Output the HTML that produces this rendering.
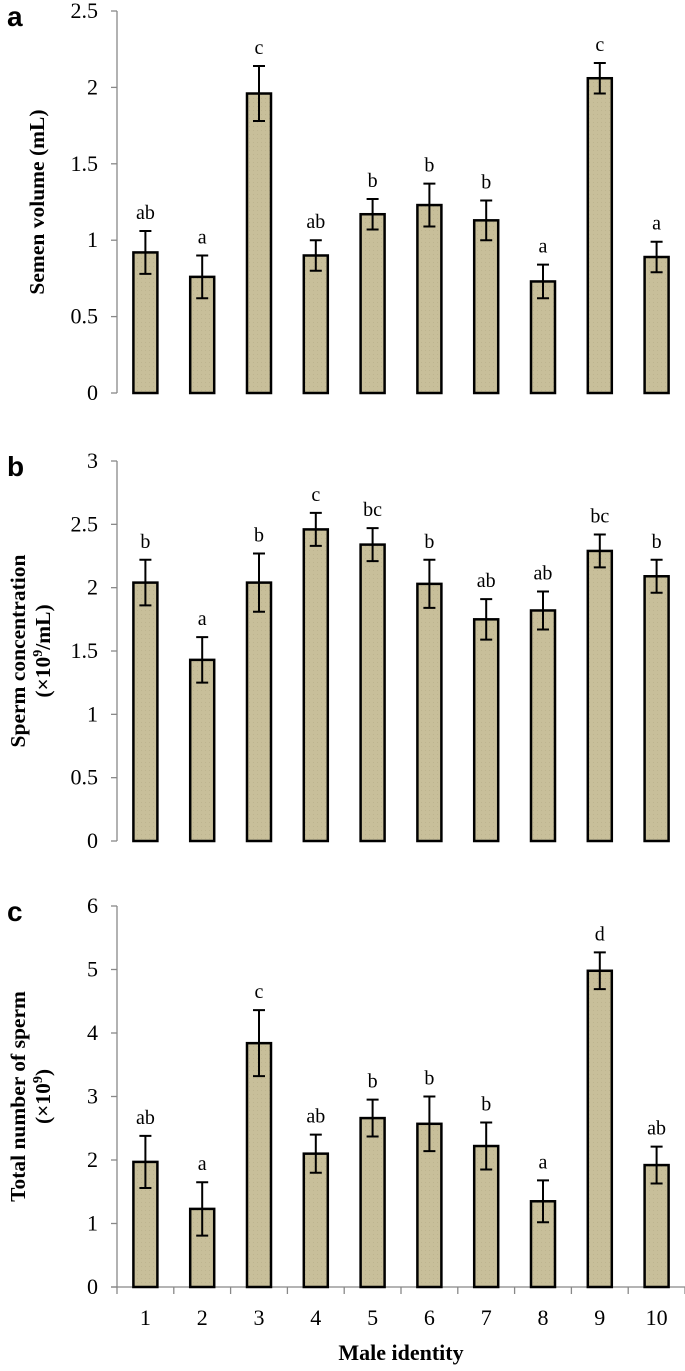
<!DOCTYPE html>
<html><head><meta charset="utf-8"><style>
body{margin:0;background:#fff;}
svg text{font-family:"Liberation Serif",serif;fill:#000;}
</style></head><body>
<svg id="chart" width="685" height="1366" viewBox="0 0 685 1366" xmlns="http://www.w3.org/2000/svg">
<defs><pattern id="tex" width="4" height="4" patternUnits="userSpaceOnUse"><rect width="4" height="4" fill="#c8bf9a"/><rect x="1" y="2" width="1" height="1" fill="#bdb48f"/></pattern></defs>
</svg>
<script>
const categories=["1","2","3","4","5","6","7","8","9","10"];
const volumeValues=[0.92,0.76,1.96,0.90,1.17,1.23,1.13,0.73,2.06,0.89];
const volumeErrors=[0.14,0.14,0.18,0.10,0.10,0.14,0.13,0.11,0.10,0.10];
const volumeLetters=["ab","a","c","ab","b","b","b","a","c","a"];
const volumeTicks=["0","0.5","1","1.5","2","2.5"];
const concValues=[2.04,1.43,2.04,2.46,2.34,2.03,1.75,1.82,2.29,2.09];
const concErrors=[0.18,0.18,0.23,0.13,0.13,0.19,0.16,0.15,0.13,0.13];
const concLetters=["b","a","b","c","bc","b","ab","ab","bc","b"];
const concTicks=["0","0.5","1","1.5","2","2.5","3"];
const totalValues=[1.97,1.23,3.84,2.10,2.66,2.57,2.22,1.35,4.98,1.92];
const totalErrors=[0.41,0.42,0.52,0.30,0.29,0.43,0.37,0.33,0.29,0.29];
const totalLetters=["ab","a","c","ab","b","b","b","a","d","ab"];
const totalTicks=["0","1","2","3","4","5","6"];

const svg=document.getElementById('chart');
const NS='http://www.w3.org/2000/svg';
function mk(tag,attrs,parent){const e=document.createElementNS(NS,tag);for(const k in attrs)e.setAttribute(k,attrs[k]);(parent||svg).appendChild(e);return e;}
const X0=117,X1=685,catW=(X1-X0)/categories.length,barW=24;
function xc(i){return X0+catW*(i+0.5);}

function panel(key,letter,yTop,yBot,ticks,vals,errs,lets,titleLines,xAxis){
  const g=mk('g',{});
  
  
  const maxV=parseFloat(ticks[ticks.length-1]);
  const y=v=>yBot-(v/maxV)*(yBot-yTop);
  const pl=mk('text',{x:7,y:yTop+15,'font-size':28,'font-weight':'bold',style:'font-family:"Liberation Sans",sans-serif'},g);
  pl.textContent=letter;
  
  
  const ax=mk('line',{x1:X0,y1:yTop,x2:X0,y2:yBot,stroke:'#888','stroke-width':1.3},g);
  
  
  ticks.forEach(t=>{
    const ty=y(parseFloat(t));
    mk('line',{x1:X0-6,y1:ty,x2:X0,y2:ty,stroke:'#888','stroke-width':1.3},g);
    const tx=mk('text',{x:98,y:ty+7,'font-size':22,'text-anchor':'end'},g);
    tx.textContent=t;
    
    
  });
  const cy=(yTop+yBot)/2;
  const tt=mk('text',{'font-size':21.5,'font-weight':'bold','text-anchor':'middle',transform:'rotate(-90)'},g);
  
  
  if(titleLines.length===1){
    const ts=mk('tspan',{x:-cy,y:44},tt);ts.textContent=titleLines[0];
  }else{
    const a=mk('tspan',{x:-cy,y:25},tt);a.textContent=titleLines[0];
    const b=mk('tspan',{x:-cy,y:50},tt);b.innerHTML=titleLines[1];
  }
  if(xAxis){
    const xa=mk('line',{x1:X0-6,y1:yBot,x2:X1,y2:yBot,stroke:'#888','stroke-width':1.3},g);
    
    
    for(let i=0;i<=categories.length;i++){const tx=X0+catW*i;mk('line',{x1:tx,y1:yBot,x2:tx,y2:yBot+7,stroke:'#888','stroke-width':1.3},g);}
    categories.forEach((c,i)=>{
      const t=mk('text',{x:xc(i),y:yBot+38,'font-size':22,'text-anchor':'middle'},g);
      t.textContent=c;
      
      
    });
    const xt=mk('text',{x:(X0+X1)/2,y:yBot+73,'font-size':22,'font-weight':'bold','text-anchor':'middle'},g);
    xt.textContent='Male identity';
    
    
  }
  vals.forEach((v,i)=>{
    const cx=xc(i);
    const r=mk('rect',{x:cx-barW/2,y:y(v),width:barW,height:yBot-y(v),fill:'url(#tex)',stroke:'#000','stroke-width':2.5},g);
    
    
    const e=mk('path',{d:`M${cx-6},${y(v+errs[i])}H${cx+6}M${cx},${y(v+errs[i])}V${y(v-errs[i])}M${cx-6},${y(v-errs[i])}H${cx+6}`,stroke:'#000','stroke-width':2,fill:'none'},g);
    
    
    const l=mk('text',{x:cx,y:y(v+errs[i])-12,'font-size':20,'text-anchor':'middle'},g);
    l.textContent=lets[i];
    
    
  });
}
panel('volume','a',11,393,volumeTicks,volumeValues,volumeErrors,volumeLetters,['Semen volume (mL)'],false);
panel('concentration','b',461,841,concTicks,concValues,concErrors,concLetters,['Sperm concentration','(×10<tspan dy="-8" font-size="14">9</tspan><tspan dy="8">/mL)</tspan>'],false);
panel('total','c',906,1287,totalTicks,totalValues,totalErrors,totalLetters,['Total number of sperm','(×10<tspan dy="-8" font-size="14">9</tspan><tspan dy="8">)</tspan>'],true);
</script>
</body></html>
